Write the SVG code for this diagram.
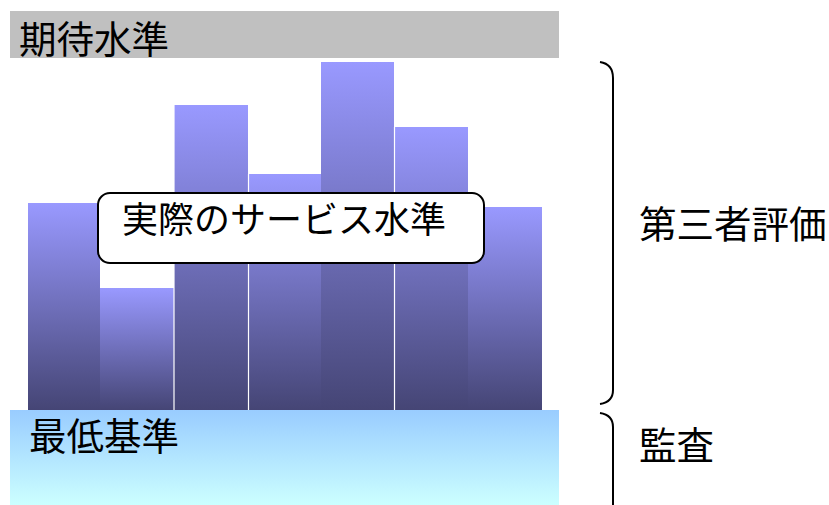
<svg xmlns="http://www.w3.org/2000/svg" width="829" height="505" viewBox="0 0 829 505">
<defs>
<linearGradient id="barGrad" x1="0" y1="0" x2="0" y2="1">
<stop offset="0" stop-color="#9999FF"/>
<stop offset="1" stop-color="#454575"/>
</linearGradient>
<linearGradient id="baseGrad" x1="0" y1="0" x2="0" y2="1">
<stop offset="0" stop-color="#99CCFF"/>
<stop offset="1" stop-color="#CCFFFF"/>
</linearGradient>
<style>
text{font-family:"Noto Sans CJK JP","Noto Sans CJK SC",sans-serif;fill:#000;font-size:37.5px}
.callout{font-size:36px}
.bar{fill:url(#barGrad)}
.sep{stroke:#fff;stroke-width:1.2}
.brace{fill:none;stroke:#000;stroke-width:2}
</style>
</defs>
<rect width="829" height="505" fill="#fff"/>
<g id="expected">
<rect x="10" y="11" width="549" height="47" fill="#C0C0C0"/>
<text x="19" y="53">期待水準</text>
</g>
<g id="bars">
<rect class="bar" x="28" y="203" width="72" height="207"/>
<rect class="bar" x="100" y="288" width="74" height="122"/>
<rect class="bar" x="174" y="105" width="74" height="305"/>
<rect class="bar" x="248" y="174" width="73" height="236"/>
<rect class="bar" x="321" y="62" width="73" height="348"/>
<rect class="bar" x="394" y="127" width="74" height="283"/>
<rect class="bar" x="468" y="207" width="74" height="203"/>
<line class="sep" x1="174" y1="105" x2="174" y2="410"/>
<line class="sep" x1="248.5" y1="174" x2="248.5" y2="410"/>
<line class="sep" x1="394.5" y1="127" x2="394.5" y2="410"/>
</g>
<g id="minimum">
<rect x="10" y="410" width="549" height="95" fill="url(#baseGrad)"/>
<text x="29" y="450">最低基準</text>
</g>
<g id="actual">
<rect x="98" y="193" width="386" height="70" rx="12" ry="12" fill="#fff" stroke="#000" stroke-width="2"/>
<text class="callout" x="122" y="233">実際のサービス水準</text>
</g>
<g id="connectors">
<path class="brace" d="M600,62 Q613,64 613,78 L613,390 Q613,402 600,404"/>
<path class="brace" d="M600,413 Q613,415 613,427 L613,505"/>
</g>
<g id="third-party">
<text x="639" y="238">第三者評価</text>
</g>
<g id="audit">
<text x="639" y="459">監査</text>
</g>
</svg>
